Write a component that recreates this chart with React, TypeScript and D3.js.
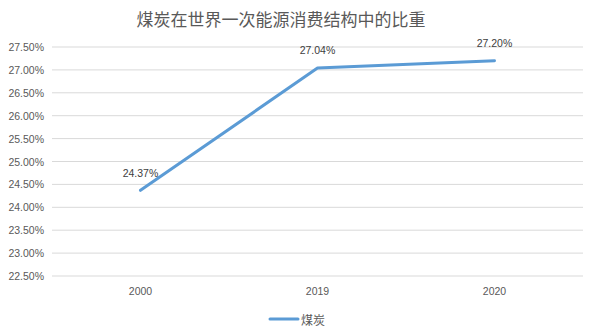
import React from "react";
import * as d3 from "d3";

const categories = ["2000", "2019", "2020"];
const values = [24.37, 27.04, 27.2];
const yTicks = [22.5, 23, 23.5, 24, 24.5, 25, 25.5, 26, 26.5, 27, 27.5];
const title = "煤炭在世界一次能源消费结构中的比重";
const seriesName = "煤炭";

export default function App() {
  const W = 593, H = 331;
  const left = 52, right = 583, top = 47, bottom = 276;
  const x = d3.scaleBand<string>().domain(categories).range([left, right]);
  const y = d3.scaleLinear().domain([22.5, 27.5]).range([bottom, top]);
  const cx = (c: string) => (x(c) as number) + x.bandwidth() / 2;
  const line = d3.line<number>().x((_, i) => cx(categories[i])).y((d) => y(d));
  const numFont = "'Liberation Sans', Arial, sans-serif";
  const cjk = "'Noto Sans CJK SC', sans-serif";
  const labelDy = [-17, -18, -18];
  return (
    <svg width={W} height={H} style={{ position: "absolute", left: 0, top: 0, background: "#fff" }}>
      <rect width={W} height={H} fill="#fff" />
      <text x={281} y={18} textAnchor="middle" dominantBaseline="central" fontFamily={cjk} fontSize={17} fill="#595959">
        {title}
      </text>
      {yTicks.map((t) => (
        <g key={t}>
          <line x1={left} x2={right} y1={y(t)} y2={y(t)} stroke="#d9d9d9" strokeWidth={1} />
          <text x={44} y={y(t)} textAnchor="end" dominantBaseline="central" fontFamily={numFont} fontSize={10.5} fill="#595959">
            {t.toFixed(2)}%
          </text>
        </g>
      ))}
      {categories.map((c) => (
        <text key={c} x={cx(c)} y={291} textAnchor="middle" dominantBaseline="central" fontFamily={numFont} fontSize={10.5} fill="#595959">
          {c}
        </text>
      ))}
      <path d={line(values) || ""} fill="none" stroke="#5B9BD5" strokeWidth={3} strokeLinecap="round" strokeLinejoin="round" />
      {values.map((v, i) => (
        <text key={i} x={cx(categories[i])} y={y(v) + labelDy[i]} textAnchor="middle" dominantBaseline="central" fontFamily={numFont} fontSize={10.5} fill="#404040">
          {v.toFixed(2)}%
        </text>
      ))}
      <line x1={270} x2={298} y1={319} y2={319} stroke="#5B9BD5" strokeWidth={3} strokeLinecap="round" />
      <text x={301} y={319} dominantBaseline="central" fontFamily={cjk} fontSize={12} fill="#595959">
        {seriesName}
      </text>
    </svg>
  );
}
